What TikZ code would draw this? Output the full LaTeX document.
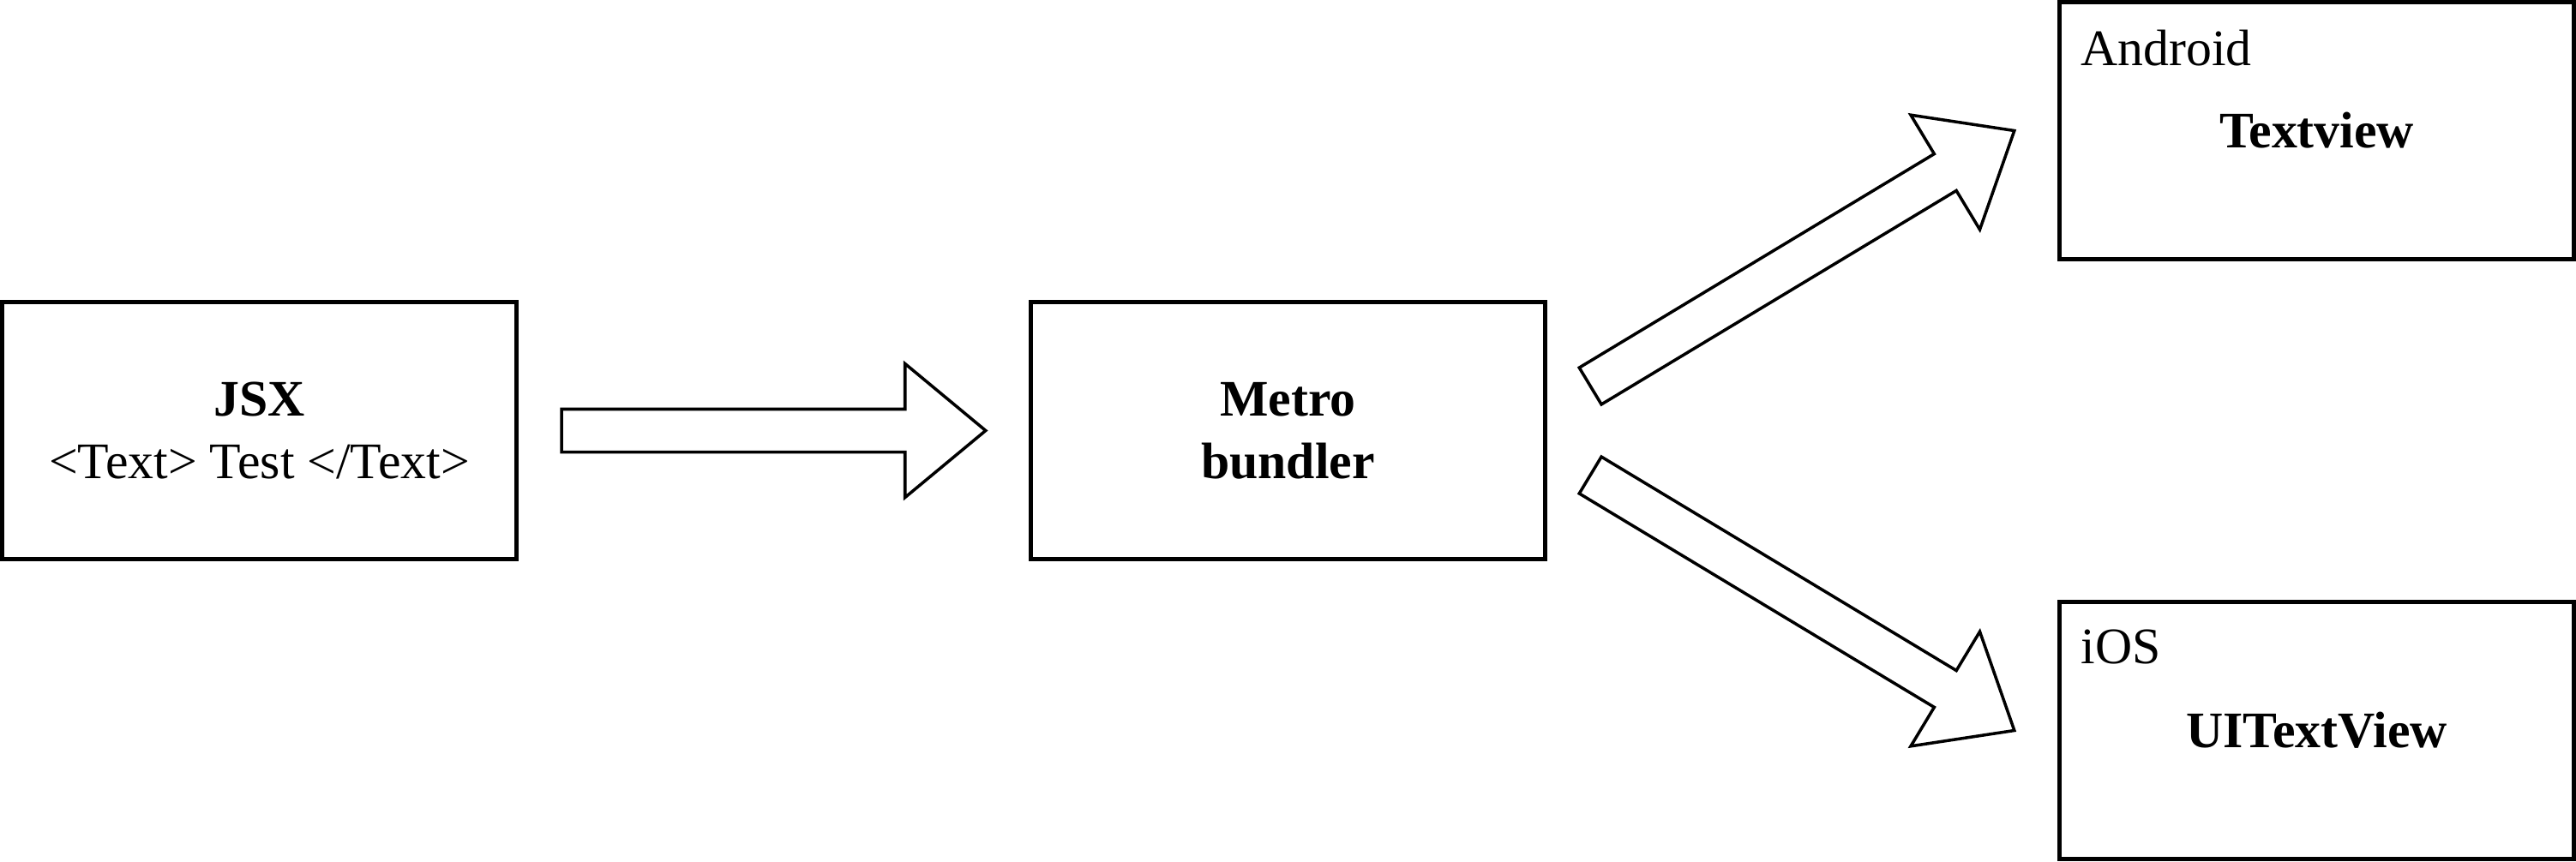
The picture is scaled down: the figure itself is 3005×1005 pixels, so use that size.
\documentclass[tikz,border=0pt]{standalone}
\usepackage{fontspec}
\setmainfont{Liberation Serif}
\usetikzlibrary{calc}

% fat hollow arrow from tail #1 to tip #2
\newcommand{\fatarrow}[2]{%
  \coordinate (head) at ($(#2)!9.4mm!(#1)$);
  \draw[blockarrow] ($(#1)!2.5mm!90:(#2)$) -- ($(head)!2.5mm!90:(#2)$)
    -- ($(head)!7.8mm!90:(#2)$) -- (#2) -- ($(head)!7.8mm!-90:(#2)$)
    -- ($(head)!2.5mm!-90:(#2)$) -- ($(#1)!2.5mm!-90:(#2)$) -- cycle;
}

\tikzset{
  box/.style={draw, line width=1.42pt, minimum width=6cm, minimum height=3cm, align=center},
  platform/.style={anchor=north west, inner sep=0pt, xshift=0.27cm, yshift=-0.34cm},
  blockarrow/.style={draw, line width=1pt, line join=miter, fill=white}
}

\begin{document}
\begin{tikzpicture}[x=0.01cm, y=-0.01cm, font=\fontsize{17}{20.8}\selectfont]
\useasboundingbox (0,0) rectangle (3005,1005);

\node[box] (jsx) at (302.5,502.5) {\textbf{JSX}\\<Text> Test </Text>};
\node[box] (metro) at (1502.5,502.5) {\textbf{Metro}\\\textbf{bundler}};
\node[box, label={[platform]north west:Android}] (android) at (2702.5,152.5) {\textbf{Textview}};
\node[box, label={[platform]north west:iOS}] (ios) at (2702.5,852.5) {\textbf{UITextView}};

% arrow ends
\coordinate (jsxOut) at ([xshift=0.5cm]jsx.east);
\coordinate (metroIn) at ([xshift=-0.5cm]metro.west);
\coordinate (upOut) at ([shift={(50,-52)}]metro.east);
\coordinate (downOut) at ([shift={(50,52)}]metro.east);
\coordinate (androidIn) at ([xshift=-0.5cm]android.west);
\coordinate (iosIn) at ([xshift=-0.5cm]ios.west);

\fatarrow{jsxOut}{metroIn}
\fatarrow{upOut}{androidIn}
\fatarrow{downOut}{iosIn}
\end{tikzpicture}
\end{document}
